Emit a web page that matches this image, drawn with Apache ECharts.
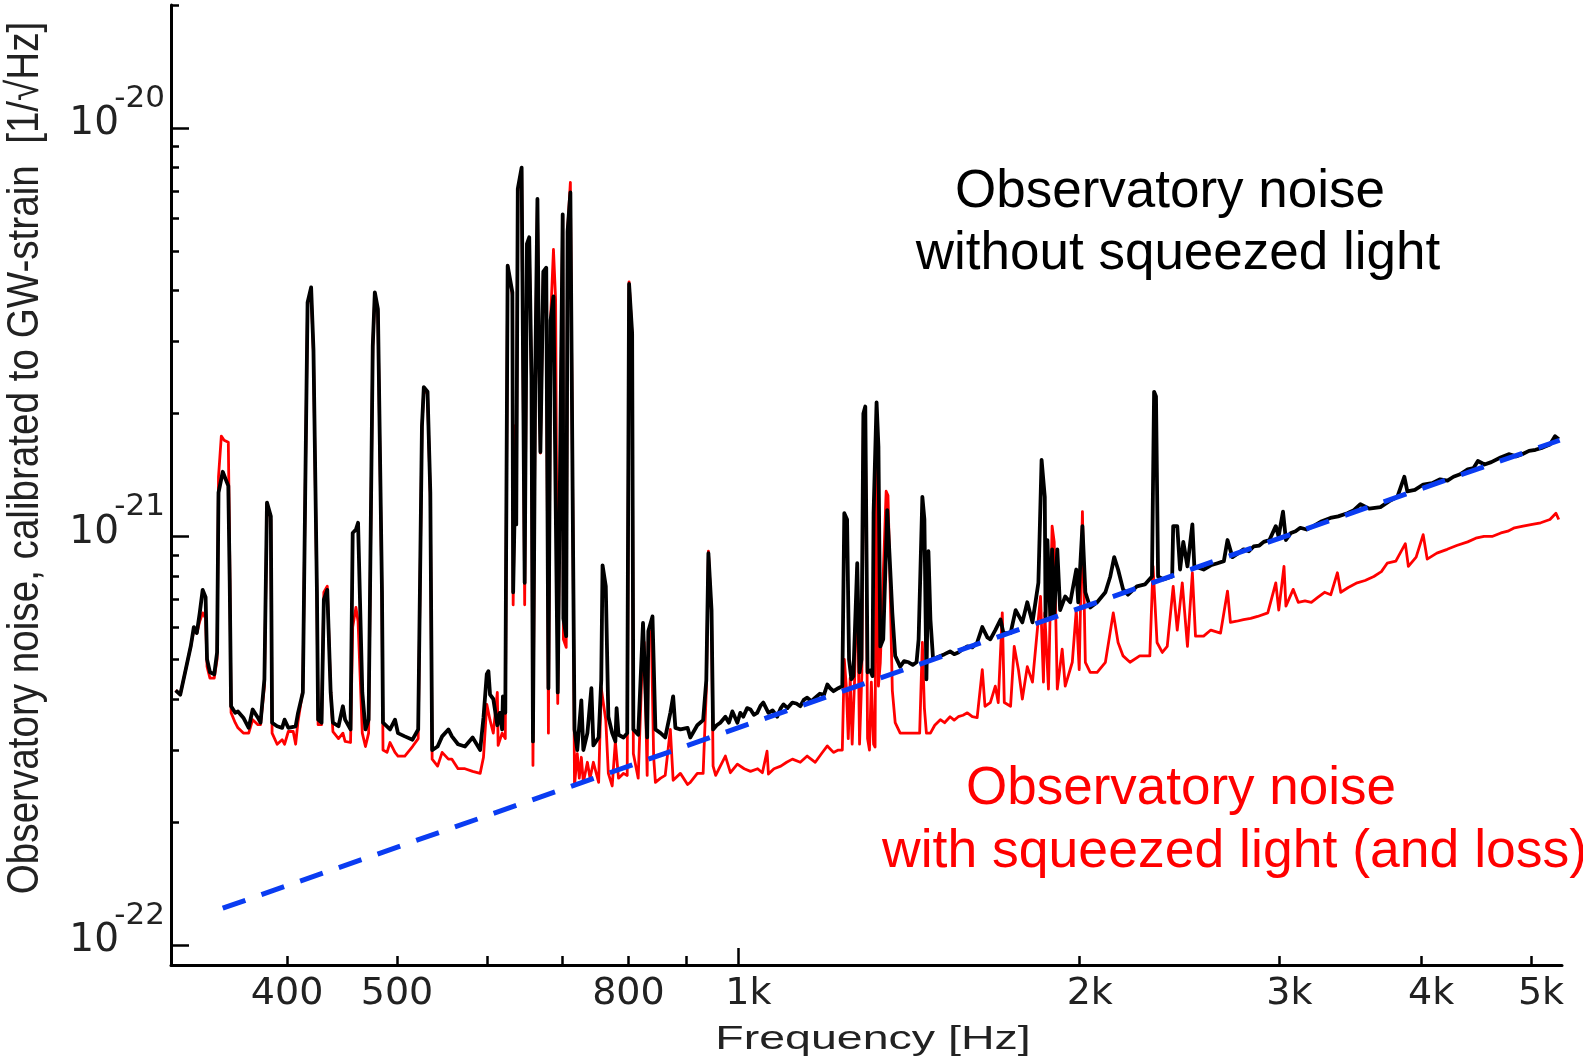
<!DOCTYPE html>
<html><head><meta charset="utf-8">
<script src="https://cdn.jsdelivr.net/npm/echarts@6/dist/echarts.min.js"></script>
<style>html,body{margin:0;padding:0;background:#fff}#chart{width:1583px;height:1064px}</style>
</head><body><div id="chart"></div>
<script>
// Frequency axis range [Hz]
const X_MIN = 316, X_MAX = 5325;
// Strain axis range, values stored in units of 1e-22 1/sqrt(Hz)
const Y_MIN = 0.893, Y_MAX = 200;
const Y_UNIT_EXP = -22;

// tick / label positions
const xTickValues = [400, 500, 600, 700, 800, 900, 2000, 3000, 4000, 5000];
const xMajorTickValues = [1000];
const xLabelValues = [400, 500, 800, 1000, 2000, 3000, 4000, 5000];
const yMajorValues = [1, 10, 100];
const yMinorValues = [2, 3, 4, 5, 6, 7, 8, 9, 20, 30, 40, 50, 60, 70, 80, 90, 200];

// Observatory noise without squeezed light  [Hz, 1e-22/sqrt(Hz)]
const blackNoise = [
[319,4.2],[322,4.1],[326,4.8],[329,5.4],[331,6.0],[333,5.8],[335,6.5],[337,7.4],[339,7.1],[340,5.0],[342,4.65],[345,4.6],[347,5.2],[348,12.8],[351,14.4],[355,13.3],[356,7.8],[357,3.84],[360,3.7],[362,3.73],[366,3.6],[370,3.4],[373,3.77],[377,3.6],[379,3.5],[382,4.47],[384,12.1],[387,11.2],[388,3.5],[392,3.43],[396,3.4],[398,3.56],[401,3.4],[407,3.43],[409,3.7],[413,4.15],[415,12.8],[417,37.4],[420,40.7],[422,28.7],[425,7.3],[426,3.56],[429,3.5],[431,7.0],[434,7.4],[437,4.15],[439,3.5],[444,3.43],[448,3.84],[450,3.56],[455,3.37],[457,10.2],[460,10.4],[462,10.8],[466,4.15],[469,3.37],[472,3.56],[476,29.2],[478,39.6],[481,36.0],[485,7.3],[486,3.5],[493,3.37],[498,3.56],[501,3.3],[508,3.24],[516,3.18],[522,3.37],[526,18.6],[528,23.2],[532,22.6],[535,12.8],[537,3.0],[543,3.06],[548,3.24],[555,3.37],[559,3.24],[566,3.1],[574,3.06],[583,3.22],[592,3.0],[596,3.6],[600,4.6],[602,4.68],[604,4.1],[608,4.0],[613,3.45],[616,3.7],[619,3.37],[620,4.06],[623,3.7],[624,8.9],[626,46],[632,39.6],[633,7.3],[636,14.7],[637,10.7],[639,71],[644,80],[645,44.5],[648,7.7],[651,52],[654,54],[657,24.4],[659,3.15],[662,24.4],[665,67],[667,28],[669,16.1],[673,44.5],[677,45.5],[680,4.25],[683,33.8],[687,38.7],[693,4.15],[700,61.4],[701,6.3],[705,5.7],[707,55.8],[711,69.5],[715,8.9],[717,3.37],[721,3.0],[727,3.97],[730,3.0],[736,3.3],[742,4.25],[745,3.08],[753,3.22],[757,4.45],[759,8.5],[764,7.55],[768,3.62],[774,3.3],[779,3.15],[781,3.8],[784,3.27],[792,3.22],[798,3.3],[801,41.5],[806,31.4],[808,3.37],[816,3.27],[824,6.14],[826,6.17],[831,3.22],[833,5.87],[840,6.37],[845,3.37],[854,3.3],[862,3.22],[871,3.7],[876,4.06],[880,3.4],[889,3.37],[902,3.4],[907,3.22],[920,3.45],[931,3.55],[937,4.45],[941,9.1],[947,6.6],[950,3.37],[957,3.45],[964,3.5],[974,3.62],[981,3.5],[988,3.73],[998,3.5],[1004,3.7],[1010,3.62],[1018,3.8],[1025,3.77],[1032,3.66],[1039,3.7],[1046,3.85],[1052,3.92],[1063,3.7],[1072,3.75],[1082,3.62],[1090,3.8],[1096,3.88],[1105,3.8],[1116,3.92],[1125,3.9],[1134,3.84],[1142,3.98],[1150,4.03],[1160,3.95],[1169,4.03],[1180,4.12],[1190,4.1],[1198,4.34],[1205,4.25],[1213,4.18],[1225,4.25],[1235,4.3],[1240,11.4],[1247,11.0],[1252,5.0],[1258,4.47],[1263,4.55],[1268,4.5],[1273,8.6],[1279,4.65],[1284,5.0],[1289,20.0],[1294,20.8],[1300,4.65],[1307,4.7],[1313,4.55],[1316,11.4],[1324,21.3],[1329,16.6],[1334,5.38],[1342,5.6],[1353,11.6],[1359,9.1],[1367,6.5],[1375,5.1],[1389,4.8],[1400,4.95],[1413,4.92],[1425,4.85],[1436,4.92],[1442,5.6],[1453,12.5],[1459,11.0],[1465,4.47],[1471,9.2],[1477,6.26],[1485,5.0],[1495,5.05],[1507,5.1],[1520,5.15],[1537,5.23],[1550,5.15],[1563,5.2],[1578,5.3],[1592,5.38],[1608,5.35],[1624,5.5],[1641,6.0],[1658,5.66],[1668,5.6],[1685,5.9],[1703,6.26],[1713,5.8],[1738,5.8],[1756,6.6],[1780,6.16],[1798,6.9],[1817,6.16],[1839,7.7],[1851,15.4],[1863,12.5],[1866,6.37],[1873,9.8],[1884,6.37],[1891,9.3],[1899,6.37],[1911,9.3],[1922,6.6],[1942,7.13],[1962,6.9],[1986,8.3],[1994,6.9],[2011,10.6],[2023,7.3],[2043,6.7],[2072,6.9],[2107,7.3],[2128,7.98],[2145,8.9],[2162,8.3],[2184,7.42],[2206,7.2],[2246,7.55],[2283,7.63],[2316,7.98],[2326,22.6],[2335,22.0],[2345,7.98],[2370,7.85],[2413,7.98],[2418,10.6],[2438,10.6],[2452,8.3],[2468,9.7],[2489,8.45],[2514,10.7],[2524,8.45],[2572,8.3],[2610,8.5],[2646,8.6],[2680,8.7],[2700,9.8],[2727,8.9],[2760,9.1],[2789,9.3],[2820,9.2],[2847,9.45],[2880,9.5],[2906,9.7],[2940,9.8],[2978,10.6],[2995,10.0],[3022,11.5],[3040,9.8],[3071,10.2],[3100,10.3],[3130,10.5],[3170,10.4],[3214,10.6],[3270,10.9],[3327,11.1],[3380,11.2],[3444,11.4],[3490,11.6],[3536,12.0],[3600,11.7],[3683,11.8],[3750,12.2],[3812,12.5],[3866,14.0],[3890,12.9],[3950,13.0],[4017,13.4],[4090,13.5],[4158,13.8],[4220,13.7],[4272,14.0],[4330,14.2],[4397,14.6],[4450,14.7],[4489,15.3],[4550,15.0],[4613,15.2],[4700,15.6],[4779,15.9],[4850,15.7],[4911,15.9],[4980,16.2],[5047,16.3],[5120,16.5],[5196,16.8],[5250,17.6],[5290,17.3]
];

// Observatory noise with squeezed light (and loss)  [Hz, 1e-22/sqrt(Hz)]
const redNoise = [
[319,4.2],[322,4.1],[326,4.8],[329,5.4],[331,5.9],[333,5.8],[335,6.2],[337,6.5],[339,6.3],[340,4.8],[342,4.5],[345,4.5],[347,5.0],[348,14.0],[350,17.6],[352,17.2],[355,17.0],[356,9.0],[357,3.7],[360,3.5],[362,3.4],[366,3.3],[370,3.3],[373,3.56],[377,3.46],[379,3.46],[382,4.3],[384,12.0],[387,11.0],[388,3.3],[392,3.1],[396,3.18],[398,3.1],[401,3.33],[405,3.33],[407,3.1],[409,3.53],[413,4.2],[415,13.0],[417,37.0],[420,40.0],[422,28.0],[425,7.0],[426,3.46],[429,3.46],[431,7.3],[434,7.55],[437,4.2],[439,3.33],[444,3.2],[448,3.3],[450,3.15],[455,3.13],[457,6.0],[460,6.7],[462,6.2],[466,3.3],[469,3.06],[472,3.3],[476,29.0],[478,39.0],[481,35.5],[485,7.0],[486,3.0],[490,2.96],[493,3.13],[498,2.96],[501,2.9],[508,2.9],[516,3.06],[522,3.2],[526,18.5],[528,23.0],[532,22.3],[535,12.5],[537,2.85],[543,2.74],[548,2.96],[555,2.85],[559,2.85],[566,2.7],[574,2.7],[583,2.66],[592,2.63],[596,2.88],[600,3.88],[604,3.55],[608,3.3],[613,4.15],[614,3.08],[619,3.3],[623,3.2],[624,8.5],[626,46],[632,39],[633,6.8],[636,18.7],[637,12.0],[639,70],[644,79],[645,44],[648,6.8],[651,52],[654,53],[657,24],[659,2.75],[662,24],[665,66],[667,28],[669,16],[673,44],[677,45],[680,3.3],[683,34],[687,50.4],[690,38],[693,3.9],[700,61],[701,5.6],[705,5.35],[707,56],[711,73.6],[715,9.0],[717,2.45],[721,2.94],[724,2.56],[727,2.88],[730,2.5],[736,2.8],[740,2.56],[745,2.8],[753,2.5],[757,4.25],[759,4.25],[764,3.55],[768,2.63],[774,2.45],[779,3.15],[784,2.56],[792,2.63],[798,2.6],[801,42],[806,31],[808,2.94],[816,2.56],[824,5.6],[826,5.5],[831,2.6],[833,5.87],[838,5.87],[842,2.88],[845,2.5],[854,2.56],[862,2.6],[871,3.37],[876,2.53],[889,2.63],[902,2.47],[907,2.5],[920,2.63],[931,2.63],[937,4.2],[941,9.2],[947,6.4],[950,2.74],[955,2.6],[964,2.74],[974,2.9],[984,2.64],[998,2.77],[1012,2.7],[1025,2.66],[1040,2.7],[1050,2.64],[1060,2.98],[1063,2.62],[1075,2.7],[1090,2.74],[1103,2.8],[1116,2.85],[1134,2.8],[1150,2.9],[1169,2.8],[1185,2.95],[1198,3.07],[1213,2.96],[1225,3.0],[1235,3.0],[1240,5.0],[1245,4.3],[1250,3.2],[1255,4.5],[1260,3.1],[1266,4.4],[1273,8.4],[1279,3.1],[1285,4.6],[1289,19.5],[1294,20.3],[1300,3.2],[1305,3.0],[1310,4.4],[1316,3.1],[1320,3.05],[1324,20.5],[1329,4.3],[1334,4.9],[1342,8.0],[1350,12.9],[1355,12.6],[1359,9.0],[1367,4.2],[1375,3.5],[1389,3.3],[1413,3.3],[1436,3.3],[1445,3.3],[1453,5.5],[1459,3.8],[1465,3.3],[1477,3.3],[1490,3.45],[1507,3.56],[1520,3.5],[1537,3.62],[1550,3.55],[1563,3.62],[1578,3.65],[1592,3.7],[1608,3.62],[1624,3.6],[1641,4.72],[1650,3.84],[1668,3.92],[1685,4.3],[1695,3.92],[1709,6.5],[1716,3.92],[1738,3.84],[1751,5.38],[1766,4.72],[1780,4.0],[1798,4.8],[1817,4.4],[1835,5.9],[1847,7.13],[1858,4.4],[1863,6.5],[1877,4.23],[1891,10.6],[1899,9.7],[1911,4.23],[1930,5.3],[1942,4.3],[1970,4.92],[1986,6.6],[1998,4.72],[2011,11.5],[2023,4.92],[2043,4.65],[2072,4.65],[2107,4.92],[2141,6.5],[2162,5.5],[2184,5.1],[2215,4.92],[2259,5.1],[2306,5.1],[2321,8.45],[2340,5.5],[2365,5.2],[2389,5.38],[2418,7.55],[2438,5.9],[2463,7.7],[2489,5.38],[2514,8.15],[2530,5.7],[2572,5.7],[2610,5.9],[2662,5.8],[2700,7.35],[2716,6.16],[2750,6.2],[2789,6.26],[2830,6.3],[2870,6.37],[2930,6.5],[2978,7.7],[2996,6.6],[3028,8.45],[3040,6.75],[3085,7.42],[3117,6.9],[3160,6.95],[3201,6.9],[3245,7.1],[3288,7.3],[3330,7.2],[3375,8.15],[3398,7.3],[3450,7.5],[3513,7.7],[3570,7.8],[3634,7.98],[3690,8.2],[3734,8.6],[3800,8.7],[3874,9.6],[3898,8.45],[3960,8.9],[4017,10.1],[4050,8.8],[4130,9.1],[4218,9.3],[4300,9.5],[4397,9.7],[4470,9.9],[4545,10.0],[4620,10.0],[4704,10.2],[4770,10.3],[4836,10.5],[4920,10.6],[5013,10.7],[5100,10.8],[5196,11.0],[5260,11.4],[5290,11.0]
];

// Shot-noise level (blue dashed)  [Hz, 1e-22/sqrt(Hz)]
const shotNoise = [[351, 1.23], [5300, 17.2]];

const yTitle = 'Observatory noise, calibrated to GW-strain  [1/\u221AHz]';
const xTitle = 'Frequency [Hz]';
const noteBlack = ['Observatory noise', 'without squeezed light'];
const noteRed = ['Observatory noise', 'with squeezed light (and loss)'];

const chart = echarts.init(document.getElementById('chart'), null, {renderer: 'canvas'});
const labelFont = 'DejaVu Sans';
const textFont = 'Liberation Sans';

const baseX = {type: 'log', logBase: 10, min: X_MIN, max: X_MAX, gridIndex: 0, position: 'bottom', offset: 0, splitLine: {show: false}, minorTick: {show: false}};
const baseY = {type: 'log', logBase: 10, min: Y_MIN, max: Y_MAX, gridIndex: 0, position: 'left', offset: 0, splitLine: {show: false}, minorTick: {show: false}};

const option = {
  animation: false,
  backgroundColor: '#ffffff',
  grid: {left: 171, right: 21, top: 5, bottom: 99, containLabel: false, outerBoundsMode: 'none'},
  xAxis: [
    Object.assign({}, baseX, {
      axisLine: {show: true, lineStyle: {color: '#000', width: 3}},
      axisTick: {show: true, inside: true, length: 9, lineStyle: {color: '#000', width: 2.5}, customValues: xTickValues},
      axisLabel: {
        show: true, customValues: xLabelValues, margin: 10,
        formatter: function (v) { return v >= 1000 ? '{k|' + (v / 1000) + 'k}' : '{n|' + v + '}'; },
        rich: {
          n: {fontFamily: labelFont, fontSize: 38, color: '#222'},
          k: {fontFamily: labelFont, fontSize: 38, color: '#222', padding: [0, 0, 0, 20]}
        }
      }
    }),
    Object.assign({}, baseX, {
      axisLine: {show: false},
      axisTick: {show: true, inside: true, length: 17, lineStyle: {color: '#000', width: 2.5}, customValues: xMajorTickValues},
      axisLabel: {show: false}
    })
  ],
  yAxis: [
    Object.assign({}, baseY, {
      axisLine: {show: true, lineStyle: {color: '#000', width: 3}},
      axisTick: {show: true, inside: true, length: 18, lineStyle: {color: '#000', width: 2.5}, customValues: yMajorValues},
      axisLabel: {
        show: true, customValues: yMajorValues, margin: 6, padding: [0, 0, 19, 0],
        formatter: function (v) {
          const e = Math.round(Math.log10(v)) + Y_UNIT_EXP;
          return '{s|' + e + '}\n{b|10}';
        },
        rich: {
          s: {fontFamily: labelFont, fontSize: 31, color: '#222', lineHeight: 11, align: 'right'},
          b: {fontFamily: labelFont, fontSize: 39, color: '#222', lineHeight: 39, align: 'right', padding: [0, 46, 0, 0]}
        }
      }
    }),
    Object.assign({}, baseY, {
      axisLine: {show: false},
      axisTick: {show: true, inside: true, length: 8, lineStyle: {color: '#000', width: 2.5}, customValues: yMinorValues},
      axisLabel: {show: false}
    })
  ],
  series: [
    {
      name: 'with squeezed light', type: 'line', xAxisIndex: 0, yAxisIndex: 0,
      data: redNoise, showSymbol: false, symbol: 'none', z: 2,
      lineStyle: {color: '#ff0000', width: 2.8, join: 'round'}
    },
    {
      name: 'without squeezed light', type: 'line', xAxisIndex: 0, yAxisIndex: 0,
      data: blackNoise, showSymbol: false, symbol: 'none', z: 3,
      lineStyle: {color: '#000000', width: 3.8, join: 'round'}
    },
    {
      name: 'shot noise', type: 'line', xAxisIndex: 0, yAxisIndex: 0,
      data: shotNoise, showSymbol: false, symbol: 'none', z: 4,
      lineStyle: {color: '#0a3cf2', width: 5, type: [24, 17], cap: 'butt'}
    }
  ],
  graphic: [
    {type: 'text', x: 26, y: 458, rotation: Math.PI / 2, scaleX: 0.864,
     style: {text: yTitle, fontFamily: textFont, fontSize: 44.7, fill: '#222', align: 'center', verticalAlign: 'middle', textAlign: 'center', textVerticalAlign: 'middle'}},
    {type: 'text', x: 873, y: 1040, scaleX: 1.41,
     style: {text: xTitle, fontFamily: textFont, fontSize: 33, fill: '#222', align: 'center', verticalAlign: 'middle', textAlign: 'center', textVerticalAlign: 'middle'}},
    {type: 'text', x: 1170, y: 192.5,
     style: {text: noteBlack[0], fontFamily: textFont, fontSize: 53, fill: '#000', align: 'center', verticalAlign: 'middle', textAlign: 'center', textVerticalAlign: 'middle'}},
    {type: 'text', x: 1178, y: 254.5,
     style: {text: noteBlack[1], fontFamily: textFont, fontSize: 53, fill: '#000', align: 'center', verticalAlign: 'middle', textAlign: 'center', textVerticalAlign: 'middle'}},
    {type: 'text', x: 1181, y: 789,
     style: {text: noteRed[0], fontFamily: textFont, fontSize: 53, fill: '#ff0000', align: 'center', verticalAlign: 'middle', textAlign: 'center', textVerticalAlign: 'middle'}},
    {type: 'text', x: 882, y: 852, scaleX: 1.01,
     style: {text: noteRed[1], fontFamily: textFont, fontSize: 53, fill: '#ff0000', align: 'left', verticalAlign: 'middle', textAlign: 'left', textVerticalAlign: 'middle'}}
  ]
};
chart.setOption(option);
</script></body></html>
